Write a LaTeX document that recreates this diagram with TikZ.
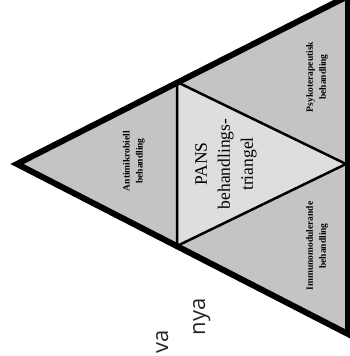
\documentclass[tikz,border=0pt]{standalone}
\usepackage{fontspec}
\setmainfont{Liberation Serif}
\newfontfamily\fragfont{Open Sans}
\begin{document}
\begin{tikzpicture}[x=1pt,y=-1pt,line join=miter,font=\fontsize{10}{13}\selectfont]
\tikzset{
	rand/.style={line width=6pt},
	innen/.style={line width=2.5pt},
	feld/.style={fill=black!23},
	mitte/.style={fill=black!13},
	lbl/.style={rotate=90,align=center,font=\bfseries\fontsize{9.5}{13}\selectfont},
	titel/.style={rotate=90,align=center,font=\fontsize{17.5}{23}\selectfont},
	frag/.style={rotate=90,anchor=base,inner sep=0pt,text=black!85,font=\fragfont\fontsize{22}{26}\selectfont}
}
\useasboundingbox (0,0) rectangle (350,356);
\path
(17,164) coordinate (A)
(348,-4) coordinate (T)
(348,334) coordinate (B)
(177,82) coordinate (M_1)
(177,246) coordinate (M_2)
(346,164) coordinate (M_3)
;
\fill[feld]
(A)--(M_1)--(M_2)--cycle
(M_1)--(T)--(M_3)--cycle
(M_2)--(M_3)--(B)--cycle
;
\fill[mitte] (M_1)--(M_3)--(M_2)--cycle;
\draw[innen] (M_1)--(M_2)--(M_3)--cycle;
\draw[rand] (A)--(T)--(B)--cycle;
\node[lbl] (anti) at (134,161) {Antimikrobiell\\behandling};
\node[titel] (pans) at (226,164) {PANS\\behandlings-\\triangel};
\node[lbl] (psyko) at (317,77) {Psykoterapeutisk\\behandling};
\node[lbl] (immuno) at (317,246) {Immunomodulerande\\behandling};
\node[frag] (va) at (168,342) {va};
\node[frag] (nya) at (205,317) {nya};
\end{tikzpicture}
\end{document}
